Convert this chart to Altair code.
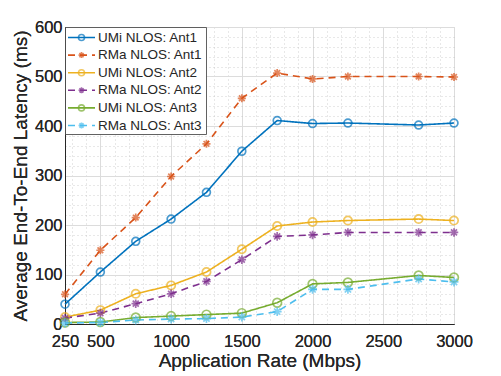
import altair as alt
import pandas as pd

rates = [250, 500, 750, 1000, 1250, 1500, 1750, 2000, 2250, 2750, 3000]
series = ["UMi NLOS: Ant1", "RMa NLOS: Ant1", "UMi NLOS: Ant2",
          "RMa NLOS: Ant2", "UMi NLOS: Ant3", "RMa NLOS: Ant3"]
umi_ant1 = [40, 105, 167, 212, 266, 349, 411, 405, 406, 402, 406]
rma_ant1 = [60, 149, 215, 298, 364, 456, 507, 495, 500, 500, 499]
umi_ant2 = [14, 28, 61, 78, 105, 151, 198, 206, 209, 212, 209]
rma_ant2 = [12, 22, 41, 61, 86, 130, 177, 180, 185, 185, 185]
umi_ant3 = [3, 4, 13, 16, 19, 22, 43, 81, 84, 98, 94]
rma_ant3 = [2, 3, 8, 10, 11, 14, 25, 70, 70, 91, 85]
values = [umi_ant1, rma_ant1, umi_ant2, rma_ant2, umi_ant3, rma_ant3]

x_ticks = [250, 500, 1000, 1500, 2000, 2500, 3000]
x_minor = list(range(300, 3000, 100))
y_ticks = [0, 100, 200, 300, 400, 500, 600]
y_minor = list(range(20, 600, 20))

colors = ["#0072BD", "#D95319", "#EDB120", "#7E2F8E", "#77AC30", "#4DBEEE"]
dashes = [[1, 0], [7, 5]] * 3
ASTER = "M0,-1L0,1M-1,0L1,0M-0.7,-0.7L0.7,0.7M-0.7,0.7L0.7,-0.7"
shapes = ["circle", ASTER] * 3
sizes = [62, 80] * 3

rows = []
for s, vals in zip(series, values):
    for r, v in zip(rates, vals):
        rows.append({"rate": r, "latency": v, "series": s})
df = pd.DataFrame(rows)
leg_df = pd.DataFrame({"series": series})

FONT = "Liberation Sans"
TXT = "#262626"

color = alt.Color("series:N", scale=alt.Scale(domain=series, range=colors), legend=None)
dash = alt.StrokeDash("series:N", scale=alt.Scale(domain=series, range=dashes), legend=None)
shape = alt.Shape("series:N", scale=alt.Scale(domain=series, range=shapes), legend=None)
size = alt.Size("series:N", scale=alt.Scale(domain=series, range=sizes), legend=None)

xscale = alt.Scale(domain=[250, 3000], nice=False, zero=False)
yscale = alt.Scale(domain=[0, 600], nice=False)

minor = alt.Chart(df).mark_point(opacity=0).encode(
    x=alt.X("rate:Q", scale=xscale, axis=alt.Axis(
        orient="top", values=x_minor, grid=True, gridDash=[1, 3],
        gridColor="#bdbdbd", gridWidth=0.7, labels=False, ticks=False,
        domain=False, title=None)),
    y=alt.Y("latency:Q", scale=yscale, axis=alt.Axis(
        orient="right", values=y_minor, grid=True, gridDash=[1, 3],
        gridColor="#bdbdbd", gridWidth=0.7, labels=False, ticks=False,
        domain=False, title=None)),
)

base = alt.Chart(df).encode(
    x=alt.X("rate:Q", scale=xscale, axis=alt.Axis(
        values=x_ticks, format="d", grid=True, gridColor="#dcdcdc", gridWidth=1,
        ticks=False, domainColor=TXT, domainWidth=1,
        labelFont=FONT, labelFontSize=16.5, labelColor=TXT, labelPadding=9,
        labelFlush=False, labelOverlap=False,
        title="Application Rate (Mbps)", titleFont=FONT, titleFontSize=19,
        titleFontWeight="normal", titleColor=TXT, titlePadding=2)),
    y=alt.Y("latency:Q", scale=yscale, axis=alt.Axis(
        values=y_ticks, format="d", grid=True, gridColor="#dcdcdc", gridWidth=1,
        ticks=False, domainColor=TXT, domainWidth=1,
        labelFont=FONT, labelFontSize=16.5, labelColor=TXT, labelPadding=3,
        labelFlush=False, labelOverlap=False,
        title="Average End-To-End Latency (ms)", titleFont=FONT,
        titleFontSize=19, titleFontWeight="normal", titleColor=TXT,
        titlePadding=4)),
    color=color,
)

lines = base.mark_line(strokeWidth=1.6).encode(strokeDash=dash, detail="series:N")
points = base.mark_point(filled=False, strokeWidth=1.7).encode(shape=shape, size=size)

main = alt.layer(minor, lines, points).resolve_axis(x="independent", y="independent")

ly = alt.Y("series:N", sort=series,
           scale=alt.Scale(type="point", domain=series, range=[10.5, 98.5], padding=0),
           axis=None)

box = alt.Chart(pd.DataFrame({"series": [series[0]]})).mark_rect(
    fill="white", stroke="#3a3a3a", strokeWidth=0.8
).encode(x=alt.value(0.5), x2=alt.value(141.5), y=alt.value(0.5), y2=alt.value(107.5))

leg_lines = alt.Chart(leg_df).mark_rule(strokeWidth=1.6).encode(
    x=alt.value(3), x2=alt.value(30), y=ly, color=color, strokeDash=dash)
leg_pts = alt.Chart(leg_df).mark_point(filled=False, strokeWidth=1.6).encode(
    x=alt.value(16.5), y=ly, color=color, shape=shape, size=alt.value(36))
leg_txt = alt.Chart(leg_df).mark_text(
    align="left", baseline="middle", font=FONT, fontSize=13.5, color=TXT
).encode(x=alt.value(33), y=ly, text="series:N")

legend = alt.layer(box, leg_lines, leg_pts, leg_txt)

chart = alt.layer(main, legend).resolve_scale(y="independent").properties(
    width=389, height=297,
    autosize=alt.AutoSizeParams(type="none"),
    padding={"left": 57, "top": 19, "right": 30, "bottom": 52},
).configure_view(stroke=None).configure(background="white")

chart.save("out.html", embed_options={"renderer": "svg", "actions": False})
